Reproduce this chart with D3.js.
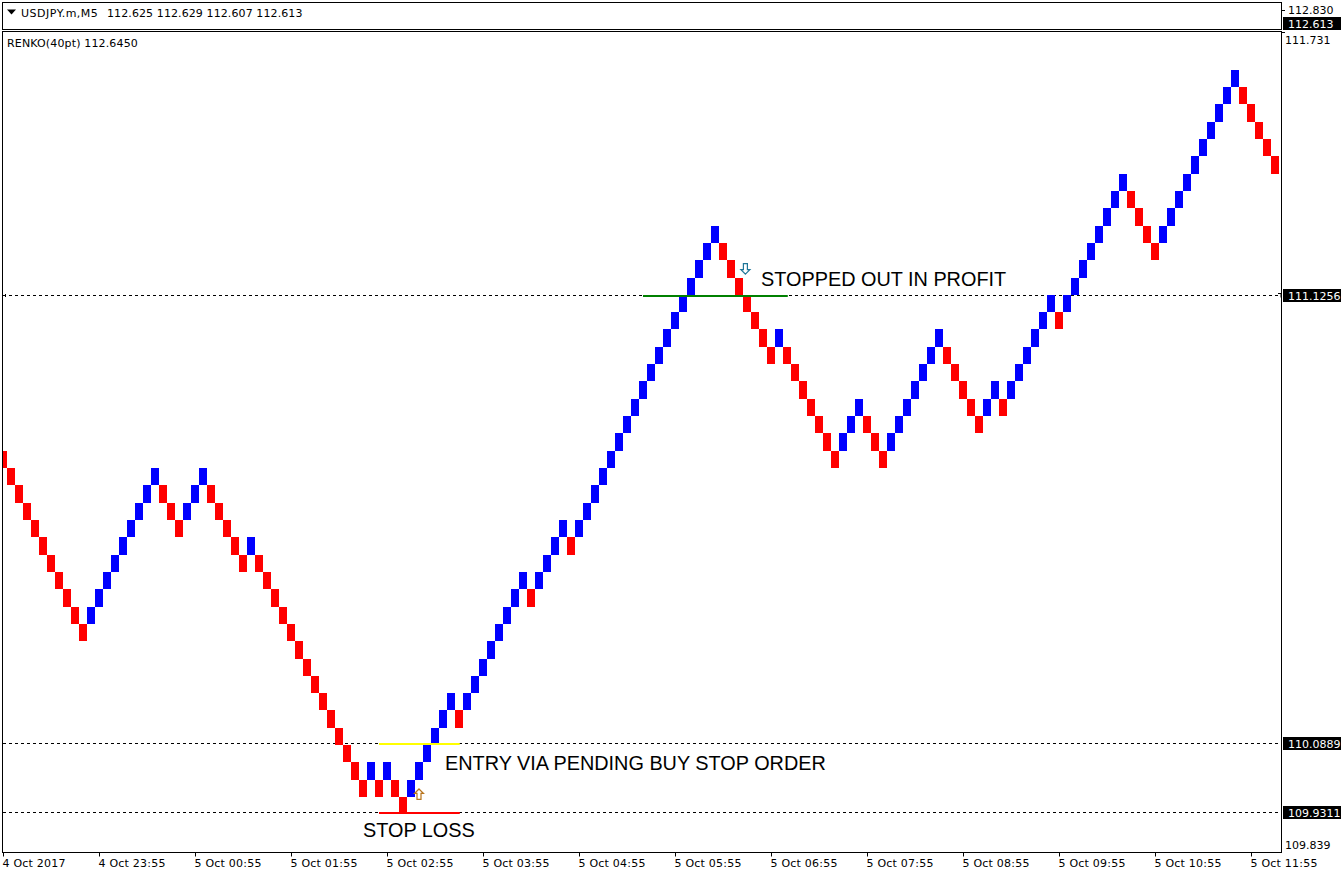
<!DOCTYPE html>
<html>
<head>
<meta charset="utf-8">
<script src="https://cdnjs.cloudflare.com/ajax/libs/d3/7.8.5/d3.min.js"></script>
<style>
html,body{margin:0;padding:0;background:#fff;}
svg{display:block;}
.ui{font-family:"DejaVu Sans",sans-serif;font-size:11px;fill:#000;}
.note{font-family:"Liberation Sans",Arial,sans-serif;font-size:19.85px;fill:#000;}
.tick text{font-family:"DejaVu Sans",sans-serif;font-size:11px;fill:#000;letter-spacing:0.22px;}
</style>
</head>
<body>
<div id="chart"></div>
<script>
// ---- data ----
const brickSize = 0.04;
const brickClose = [
110.725,110.685,110.645,110.605,110.565,110.525,110.485,110.445,110.405,110.365,110.325,
110.405,110.445,110.485,110.525,110.565,110.605,110.645,110.685,110.725,
110.645,110.605,110.565,
110.645,110.685,110.725,
110.645,110.605,110.565,110.525,110.485,
110.565,
110.485,110.445,110.405,110.365,110.325,110.285,110.245,110.205,110.165,110.125,110.085,110.045,110.005,109.965,
110.045,
109.965,
110.045,
109.965,109.925,
110.005,110.045,110.085,110.125,110.165,110.205,
110.125,
110.205,110.245,110.285,110.325,110.365,110.405,110.445,110.485,
110.405,
110.485,110.525,110.565,110.605,
110.525,
110.605,110.645,110.685,110.725,110.765,110.805,110.845,110.885,110.925,110.965,111.005,111.045,111.085,111.125,111.165,111.205,111.245,111.285,
111.205,111.165,111.125,111.085,111.045,111.005,110.965,
111.045,
110.965,110.925,110.885,110.845,110.805,110.765,110.725,
110.805,110.845,110.885,
110.805,110.765,110.725,
110.805,110.845,110.885,110.925,110.965,111.005,111.045,
110.965,110.925,110.885,110.845,110.805,
110.885,110.925,
110.845,
110.925,110.965,111.005,111.045,111.085,111.125,
111.045,
111.125,111.165,111.205,111.245,111.285,111.325,111.365,111.405,
111.325,111.285,111.245,111.205,
111.285,111.325,111.365,111.405,111.445,111.485,111.525,111.565,111.605,111.645,
111.565,111.525,111.485,111.445,111.405
];
const brickUp = [
0,0,0,0,0,0,0,0,0,0,0,
1,1,1,1,1,1,1,1,1,
0,0,0,
1,1,1,
0,0,0,0,0,
1,
0,0,0,0,0,0,0,0,0,0,0,0,0,0,
1,
0,
1,
0,0,
1,1,1,1,1,1,
0,
1,1,1,1,1,1,1,1,
0,
1,1,1,1,
0,
1,1,1,1,1,1,1,1,1,1,1,1,1,1,1,1,1,1,
0,0,0,0,0,0,0,
1,
0,0,0,0,0,0,0,
1,1,1,
0,0,0,
1,1,1,1,1,1,1,
0,0,0,0,0,
1,1,
0,
1,1,1,1,1,1,
0,
1,1,1,1,1,1,1,1,
0,0,0,0,
1,1,1,1,1,1,1,1,1,1,
0,0,0,0,0
];
const timeLabels = ["4 Oct 2017","4 Oct 23:55","5 Oct 00:55","5 Oct 01:55","5 Oct 02:55","5 Oct 03:55","5 Oct 04:55","5 Oct 05:55","5 Oct 06:55","5 Oct 07:55","5 Oct 08:55","5 Oct 09:55","5 Oct 10:55","5 Oct 11:55"];
const timeLabelBars = [0,12,24,36,48,60,72,84,96,108,120,132,144,156];
const levelPrices = [111.1256,110.0889,109.9311];
const axisEnds = [111.731,109.839];
const segPrices = [111.122,110.0875,109.928];
const segStartBar = [80.5,47.5,47.5];
const segEndBar = [98.6,57.6,57.6];
const segColors = ["#008000","#ffff00","#ff0000"];
const notes = ["STOPPED OUT IN PROFIT","ENTRY VIA PENDING BUY STOP ORDER","STOP LOSS"];
const noteBars = [95.25,55.75,45.5];
const notePrices = [111.1466,110.027,109.8725];
const arrowBars = [52.5,93.3];
const arrowPrices = [109.971,111.1855];
const arrowDir = [1,-1];
const arrowColors = ["#b8741c","#1f7698"];

// ---- layout ----
const W = 1341, H = 876;
const L = 2.5, R = 1281.5, T = 31.5, B = 852.5;

const svg = d3.select("#chart").append("svg").attr("width",W).attr("height",H);

const x = d3.scaleLinear().domain([0,160]).range([-1,1279]);
const y = d3.scaleLinear().domain([109.839,111.731]).range([851.6,32.5]);
const ry = p => Math.round(y(p));

const clipDef = svg.append("defs").append("clipPath").attr("id","plot");
clipDef.append("rect").attr("x",3).attr("y",32).attr("width",1278).attr("height",820);

// top strip
svg.append("rect").attr("x",L).attr("y",2.5).attr("width",R-L).attr("height",27).attr("fill","#fff").attr("stroke","#000");
svg.append("path").attr("d","M7,9.5h9l-4.5,5z").attr("fill","#000");
svg.append("text").attr("class","ui").attr("x",21).attr("y",17).attr("letter-spacing","0.5").text("USDJPY.m,M5");
svg.append("text").attr("class","ui").attr("x",107).attr("y",17).attr("letter-spacing","0.1").text("112.625 112.629 112.607 112.613");

// main frame
svg.append("rect").attr("x",L).attr("y",T).attr("width",R-L).attr("height",B-T).attr("fill","#fff").attr("stroke","#000");
svg.append("text").attr("class","ui").attr("x",7).attr("y",47).attr("letter-spacing","0.15").text("RENKO(40pt) 112.6450");

const plot = svg.append("g").attr("clip-path","url(#plot)");

// dashed levels
plot.selectAll("line.level").data(levelPrices).join("line").attr("class","level")
  .attr("x1",3).attr("x2",1281)
  .attr("y1",d=>ry(d)+0.5).attr("y2",d=>ry(d)+0.5)
  .attr("stroke","#000").attr("stroke-dasharray","3,3");

// level end marks on the first level line
plot.append("path").attr("d",`M5.5,${ry(levelPrices[0])-1}v3M1278,${ry(levelPrices[0])-1.5}h3v4`)
  .attr("fill","none").attr("stroke","#000");

// bricks
plot.selectAll("rect.brick").data(brickClose).join("rect").attr("class","brick")
  .attr("x",(d,i)=>x(i)).attr("width",(d,i)=>x(i+1)-x(i))
  .attr("y",(d,i)=>ry(brickUp[i]?d:d+brickSize))
  .attr("height",(d,i)=>ry(brickUp[i]?d-brickSize:d)-ry(brickUp[i]?d:d+brickSize))
  .attr("fill",(d,i)=>brickUp[i]?"#0000ff":"#ff0000")
  .attr("shape-rendering","crispEdges");

// horizontal segments
plot.selectAll("line.seg").data(segPrices).join("line").attr("class","seg")
  .attr("x1",(d,i)=>x(segStartBar[i])).attr("x2",(d,i)=>x(segEndBar[i]))
  .attr("y1",d=>ry(d)).attr("y2",d=>ry(d))
  .attr("stroke",(d,i)=>segColors[i]).attr("stroke-width",2);

// arrows
const arrowShape = "M0,-5.5 L4.5,-1 L2,-1 L2,5 L-2,5 L-2,-1 L-4.5,-1 Z";
plot.selectAll("path.arrow").data(arrowBars).join("path").attr("class","arrow")
  .attr("d",arrowShape)
  .attr("transform",(d,i)=>`translate(${x(d)},${y(arrowPrices[i])}) scale(1,${arrowDir[i]})`)
  .attr("fill","#fff").attr("stroke",(d,i)=>arrowColors[i]).attr("stroke-width",1.2);

// annotation text
plot.selectAll("text.note").data(notes).join("text").attr("class","note")
  .attr("x",(d,i)=>x(noteBars[i])).attr("y",(d,i)=>y(notePrices[i])).text(d=>d);

// time axis
const xAxis = d3.axisBottom(d3.scaleLinear().domain([0,160]).range([3,1283]))
  .tickValues(timeLabelBars)
  .tickFormat((d,i)=>timeLabels[i])
  .tickSize(4).tickSizeOuter(0);
const gx = svg.append("g").attr("transform","translate(0,852.5)").call(xAxis);
gx.select(".domain").remove();
gx.selectAll(".tick line").attr("stroke","#000");
gx.selectAll(".tick text").attr("text-anchor","start").attr("x",-1).attr("y",7).attr("dy","0.71em");

// price axis, end labels
const rightUi = svg.append("g");
rightUi.selectAll("text.end").data(axisEnds).join("text").attr("class","ui end")
  .attr("x",1285)
  .attr("y",(d,i)=>i===0?44:849)
  .text(d=>d3.format(".3f")(d));
rightUi.selectAll("line.endtick").data(axisEnds.slice(0,1)).join("line").attr("class","endtick")
  .attr("x1",1282).attr("x2",1285).attr("y1",32.5).attr("y2",32.5).attr("stroke","#000");

// price boxes
const boxes = rightUi.selectAll("g.box").data(levelPrices).join("g").attr("class","box");
boxes.append("rect").attr("x",1283).attr("y",d=>ry(d)-6).attr("width",58).attr("height",13).attr("fill","#000");
boxes.append("text").attr("class","ui").attr("x",1288).attr("y",d=>ry(d)+4.5).attr("style","fill:#fff").text(d=>d3.format(".4f")(d));

// upper strip scale
rightUi.append("text").attr("class","ui").attr("x",1288).attr("y",14).text("112.830");
rightUi.append("line").attr("x1",1282).attr("x2",1285).attr("y1",10.5).attr("y2",10.5).attr("stroke","#000");
rightUi.append("rect").attr("x",1283).attr("y",17).attr("width",58).attr("height",13).attr("fill","#000");
rightUi.append("text").attr("class","ui").attr("x",1288).attr("y",28).attr("style","fill:#fff").text("112.613");
</script>
</body>
</html>
